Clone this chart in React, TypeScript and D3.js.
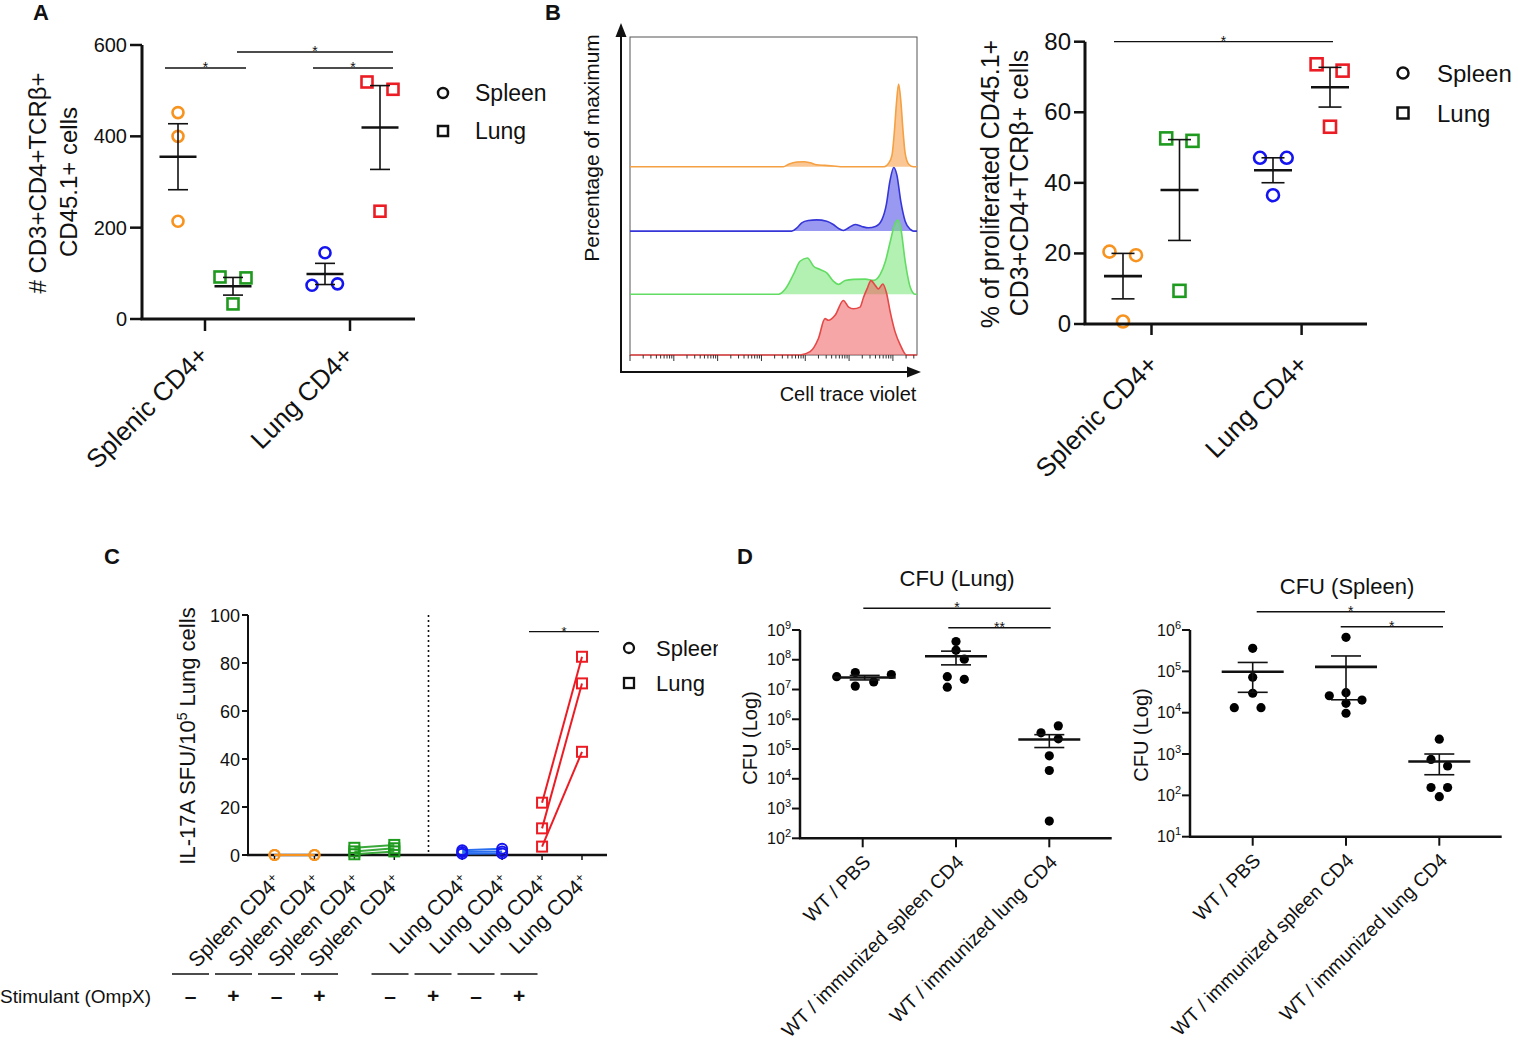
import React from "react";
import * as d3 from "d3";

const FONT = "'Liberation Sans', Arial, Helvetica, sans-serif";
const ORANGE = "#f7931e";
const GREEN = "#1e9a1e";
const BLUE = "#1414f0";
const RED = "#ec1c24";

// ---------------- Panel A data ----------------
const A_CATEGORIES = ["Splenic CD4+", "Lung CD4+"];
const A_Y_TICKS = [0, 200, 400, 600];
const A_SPLENIC_IN_SPLEEN = [452, 400, 214];
const A_SPLENIC_IN_LUNG = [92, 90, 33];
const A_LUNG_IN_SPLEEN = [145, 74, 77];
const A_LUNG_IN_LUNG = [519, 503, 236];
const LEGEND_LABELS = ["Spleen", "Lung"];

// ---------------- Panel B data ----------------
const B_CATEGORIES = ["Splenic CD4+", "Lung CD4+"];
const B_Y_TICKS = [0, 20, 40, 60, 80];
const B_SPLENIC_IN_SPLEEN = [20.5, 19.5, 0.7];
const B_SPLENIC_IN_LUNG = [52.6, 51.9, 9.4];
const B_LUNG_IN_SPLEEN = [47.1, 47.1, 36.5];
const B_LUNG_IN_LUNG = [73.6, 71.8, 55.9];

// Histograms: x = log10 cell trace violet intensity, y = % of maximum
const HIST_ORANGE_X = [3.5, 3.62, 3.81, 3.96, 4.11, 4.26, 4.45, 4.64, 4.8, 5.8, 5.9, 5.98, 6.03, 6.08, 6.13, 6.18, 6.23, 6.28, 6.36, 6.47];
const HIST_ORANGE_Y = [0, 3, 5.6, 6, 4.8, 2.4, 1.6, 0.8, 0, 0, 4, 14, 40, 76, 100, 80, 44, 16, 3, 0];
const HIST_BLUE_X = [3.69, 3.81, 3.92, 4.07, 4.26, 4.49, 4.64, 4.76, 4.87, 4.99, 5.14, 5.29, 5.44, 5.6, 5.75, 5.85, 5.93, 6.02, 6.09, 6.18, 6.28, 6.4, 6.47];
const HIST_BLUE_Y = [0, 4, 10, 12.8, 13.6, 12, 8, 3.2, 0.8, 4, 8, 5.6, 4, 5.6, 14, 32, 60, 77, 68, 36, 12, 2, 0];
const HIST_GREEN_X = [3.39, 3.54, 3.73, 3.88, 4.05, 4.19, 4.34, 4.49, 4.64, 4.76, 4.91, 5.1, 5.37, 5.56, 5.71, 5.83, 5.94, 6.05, 6.12, 6.18, 6.28, 6.4, 6.51];
const HIST_GREEN_Y = [0, 6, 24, 40, 44, 34, 30, 26, 16, 12, 16.8, 18, 18.4, 16.8, 24, 40, 64, 86, 90, 80, 40, 8, 0];
const HIST_RED_X = [3.88, 4.11, 4.3, 4.45, 4.53, 4.68, 4.87, 4.99, 5.1, 5.25, 5.33, 5.41, 5.5, 5.6, 5.67, 5.77, 5.85, 5.94, 6.05, 6.17, 6.31];
const HIST_RED_Y = [0, 4, 20, 44, 42, 48, 66, 58, 56, 58, 70, 80, 90, 84, 80, 86, 76, 52, 28, 12, 0];

// ---------------- Panel C data ----------------
const C_CATEGORIES = ["Spleen CD4", "Spleen CD4", "Spleen CD4", "Spleen CD4", "Lung CD4", "Lung CD4", "Lung CD4", "Lung CD4"];
const C_CATEGORY_SUFFIX = "+";
const C_STIMULANT = ["–", "+", "–", "+", "–", "+", "–", "+"];
const C_Y_TICKS = [0, 20, 40, 60, 80, 100];
const C_ORANGE_UNSTIM = [0, 0, 0];
const C_ORANGE_STIM = [0, 0, 0];
const C_GREEN_UNSTIM = [3, 1.5, 0.3];
const C_GREEN_STIM = [4.2, 2.8, 1.5];
const C_BLUE_UNSTIM = [2, 1.2, 0.5];
const C_BLUE_STIM = [2.6, 1.5, 0.6];
const C_RED_UNSTIM = [21.8, 11.1, 3.5];
const C_RED_STIM = [82.6, 71.5, 43];

// ---------------- Panel D data ----------------
const D_CATEGORIES = ["WT / PBS", "WT / immunized spleen CD4", "WT / immunized lung CD4"];
const D_LUNG_EXPONENTS = [2, 3, 4, 5, 6, 7, 8, 9];
const D_SPLEEN_EXPONENTS = [1, 2, 3, 4, 5, 6];
const D_LUNG_PBS = [2.7e7, 3.7e7, 1.3e7, 1.8e7, 3.2e7];
const D_LUNG_SPLEEN_CD4 = [4.1e8, 2.1e8, 1.05e8, 2.7e7, 2.2e7, 1.2e7];
const D_LUNG_LUNG_CD4 = [3.5e5, 6.0e5, 2.2e5, 5.9e4, 1.9e4, 380];
const D_SPL_PBS = [3.6e5, 7.2e4, 2.95e4, 1.32e4, 1.32e4];
const D_SPL_SPLEEN_CD4 = [6.65e5, 2.57e4, 3.04e4, 2.02e4, 1.68e4, 9.7e3];
const D_SPL_LUNG_CD4 = [2290, 741, 513, 155, 155, 93];

// ---------------- helpers ----------------
function meanSem(v: number[]) {
  const m = d3.mean(v) as number;
  const sd = d3.deviation(v) as number;
  return { m, sem: sd / Math.sqrt(v.length) };
}

function Marker({ shape, x, y, r, color, sw }: any) {
  if (shape === "circle") return <circle cx={x} cy={y} r={r} fill="none" stroke={color} strokeWidth={sw} />;
  if (shape === "square") return <rect x={x - r} y={y - r} width={2 * r} height={2 * r} fill="none" stroke={color} strokeWidth={sw} />;
  return <circle cx={x} cy={y} r={r} fill={color} />;
}

function Column({ values, cx, jitter, y, shape, color, r, sw, meanW, capW, meanSW, errSW }: any) {
  const { m, sem } = meanSem(values);
  const yt = y(m + sem), yb = y(m - sem), ym = y(m);
  return (
    <g>
      {values.map((v: number, i: number) => (
        <Marker key={i} shape={shape} x={cx + jitter[i]} y={y(v)} r={r} color={color} sw={sw} />
      ))}
      <line x1={cx} x2={cx} y1={yt} y2={yb} stroke="#111" strokeWidth={errSW} />
      <line x1={cx - capW / 2} x2={cx + capW / 2} y1={yt} y2={yt} stroke="#111" strokeWidth={errSW} />
      <line x1={cx - capW / 2} x2={cx + capW / 2} y1={yb} y2={yb} stroke="#111" strokeWidth={errSW} />
      <line x1={cx - meanW / 2} x2={cx + meanW / 2} y1={ym} y2={ym} stroke="#111" strokeWidth={meanSW} />
    </g>
  );
}

function RotLabel({ x, y, text, size, sup }: any) {
  return (
    <text transform={`translate(${x},${y}) rotate(-45)`} textAnchor="end" fontSize={size}>
      {text}
      {sup ? <tspan dy={-7} fontSize={size * 0.62}>{sup}</tspan> : null}
    </text>
  );
}

function SigBar({ x1, x2, y, label, sw = 1.3, size = 14 }: any) {
  return (
    <g>
      <line x1={x1} x2={x2} y1={y} y2={y} stroke="#111" strokeWidth={sw} />
      <text x={(x1 + x2) / 2} y={y + 4} textAnchor="middle" fontSize={size}>{label}</text>
    </g>
  );
}

// ---------------- Panel A ----------------
function PanelA() {
  const y = d3.scaleLinear().domain([0, 600]).range([319, 45]);
  const x = d3.scalePoint<string>().domain(A_CATEGORIES).range([205, 350]);
  const axX = 142, axY = 319;
  const common = { y, r: 5.5, sw: 2.6, meanW: 37, capW: 20, meanSW: 2.6, errSW: 1.6 };
  return (
    <g>
      <text x={33} y={20} fontSize={22} fontWeight="bold">A</text>
      <Column values={A_SPLENIC_IN_SPLEEN} cx={(x("Splenic CD4+") as number) - 27} jitter={[0, 0, 0]} shape="circle" color={ORANGE} {...common} />
      <Column values={A_SPLENIC_IN_LUNG} cx={(x("Splenic CD4+") as number) + 28} jitter={[-13, 13, 0]} shape="square" color={GREEN} {...common} />
      <Column values={A_LUNG_IN_SPLEEN} cx={(x("Lung CD4+") as number) - 25} jitter={[0, -13, 12.5]} shape="circle" color={BLUE} {...common} />
      <Column values={A_LUNG_IN_LUNG} cx={(x("Lung CD4+") as number) + 30} jitter={[-13, 13, 0]} shape="square" color={RED} {...common} />
      <line x1={axX} x2={axX} y1={45} y2={axY} stroke="#111" strokeWidth={3} />
      <line x1={axX - 1.5} x2={415} y1={axY} y2={axY} stroke="#111" strokeWidth={3} />
      {A_Y_TICKS.map((t) => (
        <g key={t}>
          <line x1={130} x2={axX} y1={y(t)} y2={y(t)} stroke="#111" strokeWidth={2.5} />
          <text x={127} y={y(t) + 7} textAnchor="end" fontSize={20}>{t}</text>
        </g>
      ))}
      {A_CATEGORIES.map((c) => (
        <g key={c}>
          <line x1={x(c)} x2={x(c)} y1={axY} y2={331} stroke="#111" strokeWidth={2.5} />
          <RotLabel x={(x(c) as number) + 5} y={axY + 38} text={c} size={26} />
        </g>
      ))}
      <text transform="translate(46,183) rotate(-90)" textAnchor="middle" fontSize={24}># CD3+CD4+TCRβ+</text>
      <text transform="translate(77,182) rotate(-90)" textAnchor="middle" fontSize={24}>CD45.1+ cells</text>
      <SigBar x1={165} x2={246} y={68} label="*" />
      <SigBar x1={237} x2={393} y={52} label="*" />
      <SigBar x1={313} x2={393} y={68} label="*" />
      <Marker shape="circle" x={443} y={93} r={5} color="#111" sw={2.5} />
      <text x={475} y={101} fontSize={23}>{LEGEND_LABELS[0]}</text>
      <Marker shape="square" x={443} y={131} r={5} color="#111" sw={2.5} />
      <text x={475} y={139} fontSize={23}>{LEGEND_LABELS[1]}</text>
    </g>
  );
}

// ---------------- Panel B histogram ----------------
function Histogram() {
  const x = d3.scaleLinear().domain([0, 6.55]).range([630, 917]);
  const y = d3.scaleLinear().domain([0, 385]).range([355, 37]);
  const lanes = [
    { xs: HIST_ORANGE_X, ys: HIST_ORANGE_Y, off: 228, stroke: "#f5a042", fill: "#f6a24c", op: 0.6 },
    { xs: HIST_BLUE_X, ys: HIST_BLUE_Y, off: 150, stroke: "#3636d8", fill: "#4646e6", op: 0.55 },
    { xs: HIST_GREEN_X, ys: HIST_GREEN_Y, off: 73.5, stroke: "#62dc62", fill: "#72e672", op: 0.55 },
    { xs: HIST_RED_X, ys: HIST_RED_Y, off: 0, stroke: "#e64848", fill: "#ee5c5c", op: 0.55 },
  ];
  const ticks: { p: number; major: boolean }[] = [];
  for (let d = 0; d <= 6; d++) {
    for (let k = 1; k <= 9; k++) {
      const p = d + Math.log10(k);
      if (p <= 6.55) ticks.push({ p, major: k === 1 });
    }
  }
  return (
    <g>
      <text x={545} y={20} fontSize={22} fontWeight="bold">B</text>
      <rect x={630} y={37} width={287} height={318} fill="none" stroke="#555" strokeWidth={1} />
      {lanes.map((L, i) => {
        const pts: [number, number][] = [[0, 0], ...L.xs.map((v, j) => [v, L.ys[j]] as [number, number]), [6.55, 0]];
        const area = d3.area<[number, number]>().x((d) => x(d[0])).y0(y(L.off)).y1((d) => y(L.off + d[1])).curve(d3.curveMonotoneX);
        const line = d3.line<[number, number]>().x((d) => x(d[0])).y((d) => y(L.off + d[1])).curve(d3.curveMonotoneX);
        return (
          <g key={i}>
            <path d={area(pts) as string} fill={L.fill} fillOpacity={L.op} />
            <path d={line(pts) as string} fill="none" stroke={L.stroke} strokeWidth={1.6} />
          </g>
        );
      })}
      {ticks.map((t, i) => (
        <line key={i} x1={x(t.p)} x2={x(t.p)} y1={355} y2={355 + (t.major ? 6 : 3.5)} stroke="#333" strokeWidth={1} />
      ))}
      <line x1={621} x2={621} y1={372} y2={34} stroke="#111" strokeWidth={2} />
      <polygon points="621,23 615.5,37 626.5,37" fill="#111" />
      <line x1={620} x2={910} y1={372} y2={372} stroke="#111" strokeWidth={2} />
      <polygon points="921,372 907,366.5 907,377.5" fill="#111" />
      <text transform="translate(599,148) rotate(-90)" textAnchor="middle" fontSize={21}>Percentage of maximum</text>
      <text x={848} y={401} textAnchor="middle" fontSize={20}>Cell trace violet</text>
    </g>
  );
}

// ---------------- Panel B right ----------------
function PanelBRight() {
  const y = d3.scaleLinear().domain([0, 80]).range([324, 41.7]);
  const x = d3.scalePoint<string>().domain(B_CATEGORIES).range([1151.5, 1301.6]);
  const axX = 1085, axY = 324;
  const common = { y, r: 6, sw: 2.6, meanW: 38, capW: 23, meanSW: 2.6, errSW: 1.6 };
  return (
    <g>
      <Column values={B_SPLENIC_IN_SPLEEN} cx={(x("Splenic CD4+") as number) - 28.5} jitter={[-13.5, 13, 0]} shape="circle" color={ORANGE} {...common} />
      <Column values={B_SPLENIC_IN_LUNG} cx={(x("Splenic CD4+") as number) + 28} jitter={[-13.3, 13, 0]} shape="square" color={GREEN} {...common} />
      <Column values={B_LUNG_IN_SPLEEN} cx={(x("Lung CD4+") as number) - 28.6} jitter={[-13, 13.7, 0]} shape="circle" color={BLUE} {...common} />
      <Column values={B_LUNG_IN_LUNG} cx={(x("Lung CD4+") as number) + 28.4} jitter={[-13.4, 12.6, 0]} shape="square" color={RED} {...common} />
      <line x1={axX} x2={axX} y1={41.7} y2={axY} stroke="#111" strokeWidth={3} />
      <line x1={axX - 1.5} x2={1367} y1={axY} y2={axY} stroke="#111" strokeWidth={3} />
      {B_Y_TICKS.map((t) => (
        <g key={t}>
          <line x1={1074} x2={axX} y1={y(t)} y2={y(t)} stroke="#111" strokeWidth={2.5} />
          <text x={1071} y={y(t) + 8} textAnchor="end" fontSize={24}>{t}</text>
        </g>
      ))}
      {B_CATEGORIES.map((c) => (
        <g key={c}>
          <line x1={x(c)} x2={x(c)} y1={axY} y2={335} stroke="#111" strokeWidth={2.5} />
          <RotLabel x={(x(c) as number) + 8} y={axY + 42} text={c} size={26} />
        </g>
      ))}
      <text transform="translate(999,184) rotate(-90)" textAnchor="middle" fontSize={25}>% of proliferated CD45.1+</text>
      <text transform="translate(1028,183) rotate(-90)" textAnchor="middle" fontSize={25}>CD3+CD4+TCRβ+ cells</text>
      <SigBar x1={1114} x2={1333} y={41.7} label="*" />
      <Marker shape="circle" x={1403} y={73} r={5.5} color="#111" sw={2.5} />
      <text x={1437} y={82} fontSize={24}>{LEGEND_LABELS[0]}</text>
      <Marker shape="square" x={1403} y={113} r={5.5} color="#111" sw={2.5} />
      <text x={1437} y={122} fontSize={24}>{LEGEND_LABELS[1]}</text>
    </g>
  );
}

// ---------------- Panel C ----------------
function PanelC() {
  const y = d3.scaleLinear().domain([0, 100]).range([855, 615]);
  const slots = [0, 1, 2, 3, 4.7, 5.7, 6.7, 7.7];
  const x = d3.scaleLinear().domain([0, 7.7]).range([274.5, 582]);
  const tableSlots = [0, 1, 2, 3, 4.64, 5.64, 6.64, 7.64];
  const tx = d3.scaleLinear().domain([0, 1]).range([190.5, 233.5]);
  const axX = 248, axY = 855;
  const pairs = [
    { a: C_ORANGE_UNSTIM, b: C_ORANGE_STIM, i: 0, shape: "circle", color: ORANGE, lc: ORANGE },
    { a: C_GREEN_UNSTIM, b: C_GREEN_STIM, i: 2, shape: "square", color: GREEN, lc: "#3aa83a" },
    { a: C_BLUE_UNSTIM, b: C_BLUE_STIM, i: 4, shape: "circle", color: BLUE, lc: "#2a6ef0" },
    { a: C_RED_UNSTIM, b: C_RED_STIM, i: 6, shape: "square", color: RED, lc: RED },
  ];
  return (
    <g>
      <text x={104} y={564} fontSize={22} fontWeight="bold">C</text>
      <line x1={axX} x2={axX} y1={615} y2={axY} stroke="#111" strokeWidth={2} />
      <line x1={axX - 1} x2={607} y1={axY} y2={axY} stroke="#111" strokeWidth={2.5} />
      {C_Y_TICKS.map((t) => (
        <g key={t}>
          <line x1={242} x2={axX} y1={y(t)} y2={y(t)} stroke="#111" strokeWidth={2} />
          <text x={240} y={y(t) + 6.5} textAnchor="end" fontSize={18}>{t}</text>
        </g>
      ))}
      {C_CATEGORIES.map((c, i) => (
        <g key={i}>
          <line x1={x(slots[i])} x2={x(slots[i])} y1={axY} y2={axY + 5} stroke="#111" strokeWidth={1.5} />
          <RotLabel x={x(slots[i]) + 8} y={axY + 28} text={c} sup={C_CATEGORY_SUFFIX} size={21} />
        </g>
      ))}
      <line x1={428.5} x2={428.5} y1={615} y2={axY} stroke="#111" strokeWidth={1.6} strokeDasharray="2,3" />
      {pairs.map((P, k) => (
        <g key={k}>
          {P.a.map((v, j) => (
            <line key={j} x1={x(slots[P.i])} x2={x(slots[P.i + 1])} y1={y(v)} y2={y(P.b[j])} stroke={P.lc} strokeWidth={2} />
          ))}
          {P.a.map((v, j) => (
            <Marker key={"a" + j} shape={P.shape} x={x(slots[P.i])} y={y(v)} r={5} color={P.color} sw={2} />
          ))}
          {P.b.map((v, j) => (
            <Marker key={"b" + j} shape={P.shape} x={x(slots[P.i + 1])} y={y(v)} r={5} color={P.color} sw={2} />
          ))}
        </g>
      ))}
      <SigBar x1={529} x2={599} y={631.7} label="*" sw={1.3} size={13} />
      <text transform="translate(195,736) rotate(-90)" textAnchor="middle" fontSize={22}>
        IL-17A SFU/10<tspan dy={-8} fontSize={14}>5</tspan><tspan dy={8}> Lung cells</tspan>
      </text>
      <defs>
        <clipPath id="clipC">
          <rect x={600} y={620} width={118} height={100} />
        </clipPath>
      </defs>
      <g clipPath="url(#clipC)">
        <Marker shape="circle" x={629} y={648} r={5} color="#111" sw={2.3} />
        <text x={656} y={656} fontSize={22}>{LEGEND_LABELS[0]}</text>
        <Marker shape="square" x={629} y={683} r={5} color="#111" sw={2.3} />
        <text x={656} y={691} fontSize={22}>{LEGEND_LABELS[1]}</text>
      </g>
      {C_STIMULANT.map((s, i) => (
        <g key={i}>
          <line x1={tx(tableSlots[i]) - 18.5} x2={tx(tableSlots[i]) + 18.5} y1={974} y2={974} stroke="#111" strokeWidth={1.3} />
          <text x={tx(tableSlots[i])} y={1003} textAnchor="middle" fontSize={21} fontWeight="bold">{s}</text>
        </g>
      ))}
      <text x={0} y={1003} fontSize={19}>Stimulant (OmpX)</text>
    </g>
  );
}

// ---------------- Panel D ----------------
function LogPanel({ title, titleY, axX, x0, x1, yTop, yBot, exps, groups, ticks, sigs, labelX, labelY }: any) {
  const y = d3.scaleLog().domain([Math.pow(10, exps[0]), Math.pow(10, exps[exps.length - 1])]).range([yBot, yTop]);
  const x = d3.scalePoint<string>().domain(D_CATEGORIES).range([x0, x1]);
  const common = { y, r: 4.6, sw: 0, meanW: 62, capW: 30, meanSW: 2.6, errSW: 1.6 };
  return (
    <g>
      <text x={(x("WT / immunized spleen CD4") as number) + 1} y={titleY} textAnchor="middle" fontSize={22}>{title}</text>
      {groups.map((g: any, i: number) => (
        <Column key={i} values={g.values} cx={(x(D_CATEGORIES[i]) as number) + g.shift} jitter={g.jitter} shape="dot" color="#000" {...common} />
      ))}
      <line x1={axX} x2={axX} y1={yTop} y2={yBot} stroke="#111" strokeWidth={2.5} />
      <line x1={axX - 1} x2={ticks} y1={yBot} y2={yBot} stroke="#111" strokeWidth={2.5} />
      {exps.map((e: number) => {
        const yy = y(Math.pow(10, e));
        return (
          <g key={e}>
            <line x1={axX - 8} x2={axX} y1={yy} y2={yy} stroke="#111" strokeWidth={2} />
            <text x={axX - 9} y={yy + 5.5} textAnchor="end" fontSize={16}>
              10<tspan dy={-7} fontSize={11}>{e}</tspan>
            </text>
          </g>
        );
      })}
      {D_CATEGORIES.map((c) => (
        <g key={c}>
          <line x1={x(c)} x2={x(c)} y1={yBot} y2={yBot + 9} stroke="#111" strokeWidth={2} />
          <RotLabel x={(x(c) as number) + 9} y={yBot + 25} text={c} size={19.5} />
        </g>
      ))}
      <text transform={`translate(${labelX},${labelY}) rotate(-90)`} textAnchor="middle" fontSize={20}>CFU (Log)</text>
      {sigs.map((s: any, i: number) => (
        <SigBar key={i} x1={s.x1} x2={s.x2} y={s.y} label={s.label} sw={1.5} size={14} />
      ))}
    </g>
  );
}

function PanelD() {
  return (
    <g>
      <text x={737} y={564} fontSize={22} fontWeight="bold">D</text>
      <LogPanel
        title="CFU (Lung)" titleY={586} axX={800} x0={862.7} x1={1049.3} yTop={630} yBot={838.3}
        exps={D_LUNG_EXPONENTS} ticks={1111.7} labelX={757} labelY={738}
        groups={[
          { values: D_LUNG_PBS, jitter: [-28, -9.4, -9.4, 9, 26.6], shift: 2 },
          { values: D_LUNG_SPLEEN_CD4, jitter: [0, 0, 8.3, -8.7, 8.3, -8.7], shift: 0 },
          { values: D_LUNG_LUNG_CD4, jitter: [-8.3, 9, 9, 0, 0, 0], shift: 0 },
        ]}
        sigs={[
          { x1: 863.3, x2: 1050.7, y: 608.3, label: "*" },
          { x1: 948.3, x2: 1050.7, y: 627.7, label: "**" },
        ]}
      />
      <LogPanel
        title="CFU (Spleen)" titleY={594} axX={1190} x0={1252.7} x1={1439.3} yTop={630} yBot={836.7}
        exps={D_SPLEEN_EXPONENTS} ticks={1501.7} labelX={1148} labelY={735}
        groups={[
          { values: D_SPL_PBS, jitter: [0, 0, 0, -18.4, 8.3], shift: 0 },
          { values: D_SPL_SPLEEN_CD4, jitter: [0, -16.7, 0, 16, 0, 0], shift: 0 },
          { values: D_SPL_LUNG_CD4, jitter: [0, -8.3, 8.3, -8.3, 8.3, 0], shift: 0 },
        ]}
        sigs={[
          { x1: 1256.7, x2: 1445, y: 611.7, label: "*" },
          { x1: 1340.7, x2: 1443, y: 626.7, label: "*" },
        ]}
      />
    </g>
  );
}

export default function App() {
  return (
    <svg
      width={1518}
      height={1044}
      viewBox="0 0 1518 1044"
      style={{ position: "absolute", left: 0, top: 0, background: "#fff" }}
      fontFamily={FONT}
      fill="#111"
    >
      <rect x={0} y={0} width={1518} height={1044} fill="#fff" />
      <PanelA />
      <Histogram />
      <PanelBRight />
      <PanelC />
      <PanelD />
    </svg>
  );
}
